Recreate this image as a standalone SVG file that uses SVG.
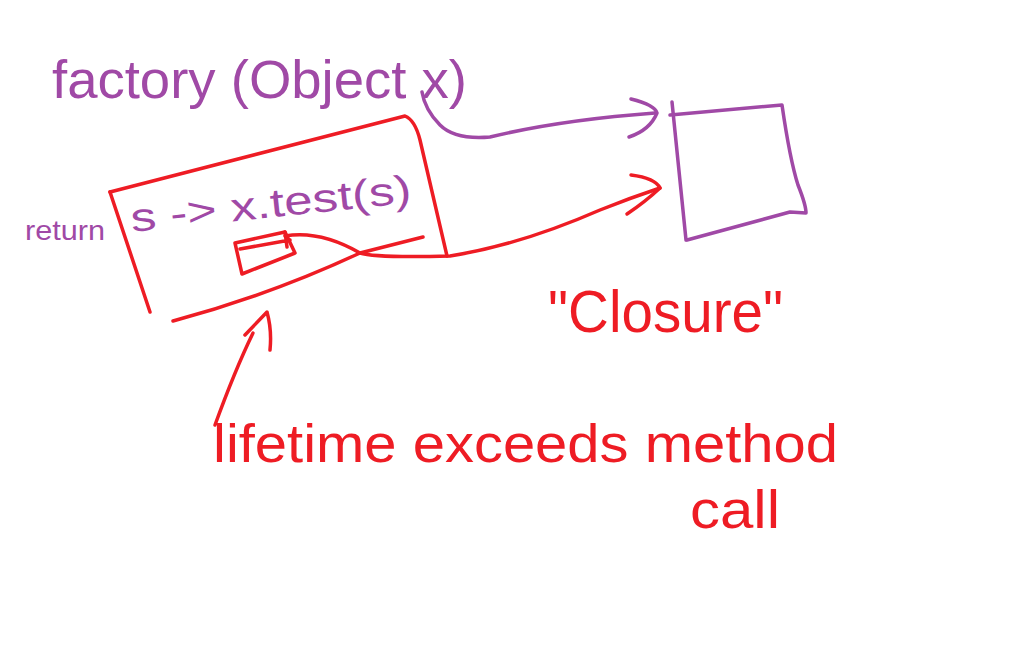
<svg xmlns="http://www.w3.org/2000/svg" width="1013" height="672" viewBox="0 0 1013 672">
<defs>
<style>
.p{stroke:#a049a6;fill:none;stroke-width:3.5;stroke-linecap:round;stroke-linejoin:round}
.r{stroke:#ee1c24;fill:none;stroke-width:3.5;stroke-linecap:round;stroke-linejoin:round}
.tp{fill:#a049a6;font-family:"Liberation Sans",Arial,sans-serif}
.tr{fill:#ee1c24;font-family:"Liberation Sans",Arial,sans-serif}
</style>
</defs>
<rect width="1013" height="672" fill="#ffffff"/>
<g id="factory-label">
<text class="tp" x="52" y="98" font-size="54" textLength="415" lengthAdjust="spacingAndGlyphs">factory (Object x)</text>
</g>
<g id="lambda-box">
<path class="r" d="M110,192 L405,116 Q415,120 420,140 L447,256"/>
<path class="r" d="M110,192 L150,312"/>
<path class="r" d="M173,321 Q270,295 360,253 L423,237"/>
<text class="tp" x="25" y="240" font-size="28" textLength="80" lengthAdjust="spacingAndGlyphs">return</text>
<text class="tp" x="132" y="232" font-size="40" textLength="282" lengthAdjust="spacingAndGlyphs" transform="rotate(-6 132 232)">s -&gt; x.test(s)</text>
<path class="r" d="M235,243 L285,232 L295,253 L242,274 Z"/>
<path class="r" d="M240,249 L290,240 M285,232 L287,247"/>
</g>
<g id="closure-box">
<path class="p" d="M672,102 L686,240"/>
<path class="p" d="M670,115 L782,105 Q790,160 798,185 Q806,205 806,213 L790,212 L687,240"/>
</g>
<g id="connectors">
<path class="p" d="M422,92 Q425,110 440,125 Q455,140 490,137 Q560,120 655,113"/>
<path class="p" d="M631,99 Q655,105 657,113 Q650,130 629,137"/>
<path class="r" d="M285,236 Q320,230 360,253 Q375,258 450,256 Q520,245 600,210 Q630,198 660,188"/>
<path class="r" d="M631,175 Q655,178 660,188 Q645,202 627,214"/>
<path class="r" d="M215,425 Q235,370 253,333"/>
<path class="r" d="M245,335 L267,312 Q272,330 270,350"/>
</g>
<g id="closure-label">
<text class="tr" x="548" y="332" font-size="60" textLength="235" lengthAdjust="spacingAndGlyphs">"Closure"</text>
</g>
<g id="lifetime-label">
<text class="tr" x="213" y="462" font-size="54" textLength="625" lengthAdjust="spacingAndGlyphs">lifetime exceeds method</text>
<text class="tr" x="690" y="528" font-size="54" textLength="90" lengthAdjust="spacingAndGlyphs">call</text>
</g>
</svg>
